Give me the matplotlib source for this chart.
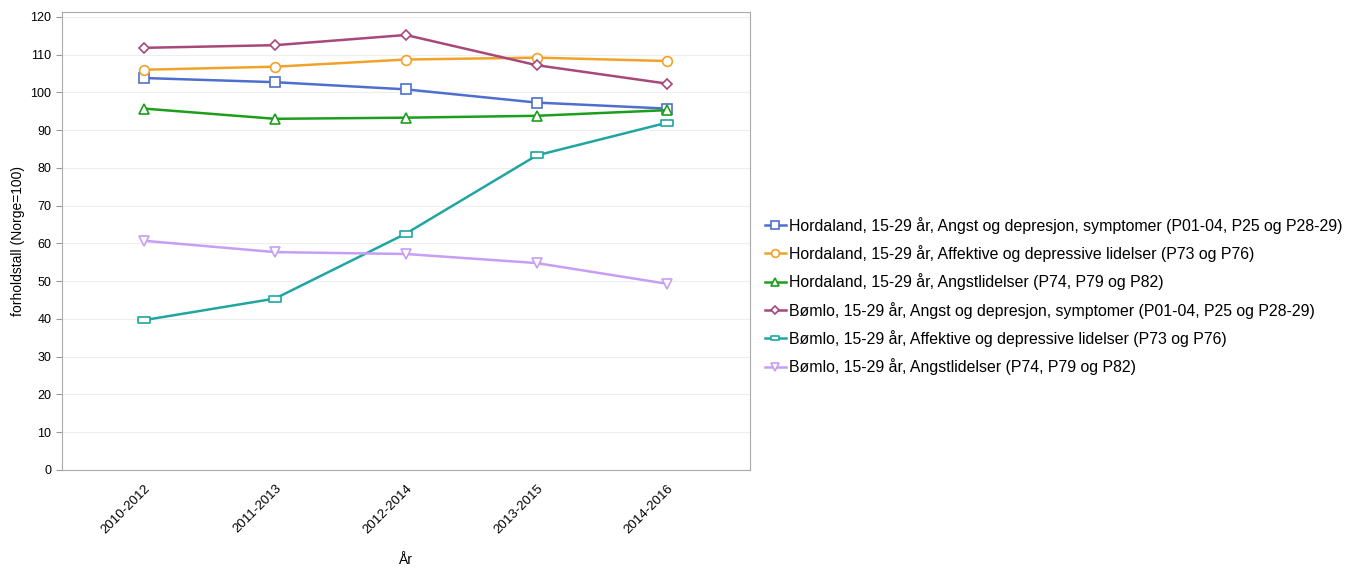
import matplotlib
matplotlib.use("Agg")
import matplotlib.pyplot as plt
from matplotlib.path import Path

plt.rcParams["font.family"] = ["Liberation Sans", "DejaVu Sans"]

years = ["2010-2012", "2011-2013", "2012-2014", "2013-2015", "2014-2016"]

hord_angst = [103.8, 102.7, 100.8, 97.3, 95.7]
hord_affektive = [106.0, 106.8, 108.7, 109.2, 108.3]
hord_angstlid = [95.7, 93.0, 93.3, 93.8, 95.3]
bomlo_angst = [111.8, 112.5, 115.2, 107.2, 102.3]
bomlo_affektive = [39.7, 45.4, 62.6, 83.3, 92.0]
bomlo_angstlid = [60.7, 57.7, 57.2, 54.8, 49.3]

labels = [
    "Hordaland, 15-29 år, Angst og depresjon, symptomer (P01-04, P25 og P28-29)",
    "Hordaland, 15-29 år, Affektive og depressive lidelser (P73 og P76)",
    "Hordaland, 15-29 år, Angstlidelser (P74, P79 og P82)",
    "Bømlo, 15-29 år, Angst og depresjon, symptomer (P01-04, P25 og P28-29)",
    "Bømlo, 15-29 år, Affektive og depressive lidelser (P73 og P76)",
    "Bømlo, 15-29 år, Angstlidelser (P74, P79 og P82)",
]

# flat rectangle marker for the teal series
flat_rect = Path([(-1, -0.55), (1, -0.55), (1, 0.55), (-1, 0.55), (-1, -0.55)],
                 [Path.MOVETO, Path.LINETO, Path.LINETO, Path.LINETO, Path.CLOSEPOLY])

series = [
    (hord_angst, "#4f6fce", "s", 7),
    (hord_affektive, "#f0a22a", "o", 7),
    (hord_angstlid, "#1c9e1c", "^", 7),
    (bomlo_angst, "#a8477c", "D", 5.5),
    (bomlo_affektive, "#1fa6a0", flat_rect, 8),
    (bomlo_angstlid, "#c79ef5", "v", 7.5),
]

fig = plt.figure(figsize=(13.62, 5.69), dpi=100)
ax = fig.add_axes([0.0455, 0.174, 0.505, 0.805])

x = range(len(years))
for (vals, color, marker, ms), label in zip(series, labels):
    ax.plot(x, vals, color=color, lw=1.8, marker=marker, markersize=ms,
            markerfacecolor="white", markeredgecolor=color, markeredgewidth=1.2,
            label=label)

ax.set_xlim(-0.63, 4.63)
ax.set_ylim(0, 121.3)
ax.set_yticks(range(0, 121, 10))
ax.set_xticks(list(x))
ax.set_xticklabels(years, rotation=45, ha="right", rotation_mode="anchor", fontsize=9.5)
ax.tick_params(axis="y", labelsize=9, length=4, color="#999999")
ax.tick_params(axis="x", length=0, pad=9)
ax.grid(axis="y", color="#eeeeee", lw=0.8)
ax.set_axisbelow(True)
for sp in ax.spines.values():
    sp.set_color("#aaaaaa")

ax.set_ylabel("forholdstall (Norge=100)", fontsize=10)
ax.set_xlabel("År", fontsize=10, labelpad=12)

leg = ax.legend(loc="center left", bbox_to_anchor=(1.013, 0.38), frameon=False,
                fontsize=11.4, handlelength=1.3, handletextpad=0.2, labelspacing=0.72,
                numpoints=1, borderaxespad=0, markerscale=0.8)

fig.savefig("out.png", dpi=100)
